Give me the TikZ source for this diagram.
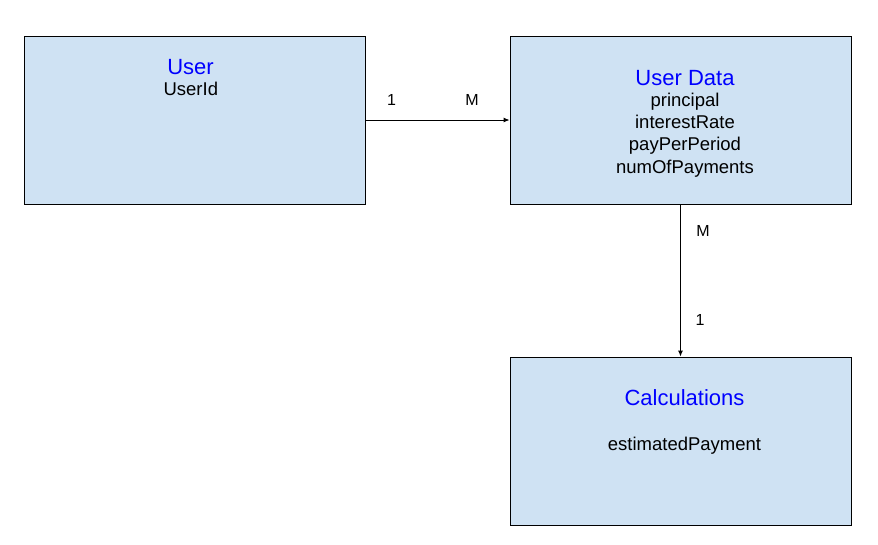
\documentclass[tikz,border=0pt]{standalone}
\usepackage{fontspec}
\setmainfont{Liberation Sans}
\usetikzlibrary{arrows.meta}
\definecolor{boxfill}{HTML}{CFE2F3}
\definecolor{titleblue}{HTML}{0000FF}
\tikzset{
  entity/.style={draw=black, fill=boxfill, line width=0.9pt, minimum width=341pt, minimum height=168pt, inner sep=0pt},
  title/.style={text=titleblue, font=\fontsize{22}{26}\selectfont, inner sep=0pt, anchor=base},
  attr/.style={font=\fontsize{18.5}{22}\selectfont, inner sep=0pt, anchor=base},
  card/.style={font=\fontsize{16}{19}\selectfont, inner sep=0pt},
  link/.style={line width=0.9pt, -{Latex[length=6pt,width=5pt]}}
}
\begin{document}
\begin{tikzpicture}[x=1pt,y=-1pt]
  \useasboundingbox (0,0) rectangle (878,544);
  % 三个实体框
  \node[entity] (user) at (194.5,120) {};
  \node[entity] (data) at (680.5,120) {};
  \node[entity] (calc) at (680.5,441) {};
  % 标题与属性
  \node[title] (usertitle) at (190.5,74) {User};
  \node[attr] (userattr) at (190.8,95.5) {UserId};
  \node[title] (datatitle) at (685,85) {User Data};
  \foreach \txt [count=\i] in {principal, interestRate, payPerPeriod, numOfPayments}
    \node[attr] (dataattr\i) at (685,84.6+22.1*\i) {\txt};
  \node[title] (calctitle) at (684.5,405) {Calculations};
  \node[attr] (calcattr) at (684.5,450.7) {estimatedPayment};
  % 连线
  \draw[link] (user.east) -- (data.west);
  \draw[link] (data.south) -- (calc.north);
  % 基数标注
  \node[card] (c1) at (391.5,100.3) {1};
  \node[card] (c2) at (472,100.3) {M};
  \node[card] (c3) at (703,231) {M};
  \node[card] (c4) at (700,320) {1};
\end{tikzpicture}
\end{document}
